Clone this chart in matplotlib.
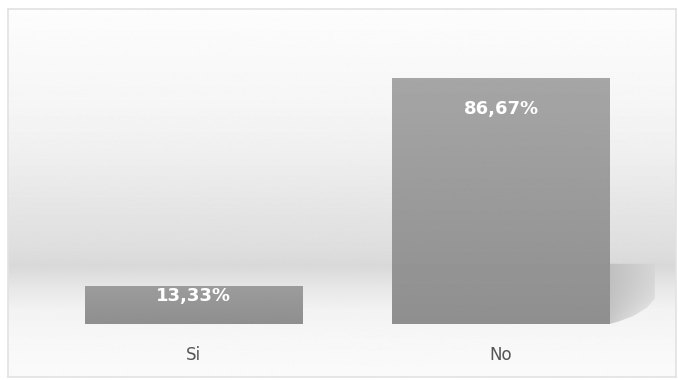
import numpy as np
import matplotlib
matplotlib.use('Agg')
import matplotlib.pyplot as plt
from matplotlib.patches import Polygon

categories = ['Si', 'No']
percentages = [13.33, 86.67]
value_labels = ['13,33%', '86,67%']

fig = plt.figure(figsize=(6.78, 3.80), dpi=100)
fig.patch.set_facecolor('white')
ax = fig.add_axes([8 / 678, 3 / 380, 668 / 678, 368 / 380])

x = np.arange(len(categories))
ymin, ymax = -18.66, 110.9
xmin, xmax = -0.603, 1.569
ax.set_xlim(xmin, xmax)
ax.set_ylim(ymin, ymax)

# soft grey band behind the bars, near white at top and bottom
stops_y = [ymax, 79, 61, 44, 26, 20.5, 12, 5, -6, ymin]
stops_g = [0.99, 0.965, 0.94, 0.905, 0.87, 0.85, 0.91, 0.95, 0.97, 0.98]
yy = np.linspace(ymax, ymin, 400)
gg = np.interp(yy, stops_y[::-1], stops_g[::-1])
ax.imshow(gg[:, None], extent=[xmin, xmax, ymin, ymax], aspect='auto',
          cmap='gray', vmin=0, vmax=1, zorder=0, interpolation='bilinear')

bars = ax.bar(x, percentages, width=0.706, color='none', edgecolor='none', zorder=3)

# drop shadow to the right of the tall bar
tall = bars[1]
rx = tall.get_x() + tall.get_width()
shadow = Polygon([(rx - 0.05, 21.2), (1.50, 21.2), (1.50, 9.0),
                  (1.475, 5.8), (1.43, 2.8), (1.38, 0.8), (rx, 0),
                  (rx - 0.05, 0)], closed=True,
                 facecolor='none', edgecolor='none')
ax.add_patch(shadow)
sx = np.linspace(0, 1, 200)
sy = np.linspace(0, 1, 100)
SX, SY = np.meshgrid(sx, sy)
shade = 0.72 + 0.12 * SX + 0.14 * (1 - SY) ** 3 * SX
shade = np.clip(shade, 0, 0.9)
im = ax.imshow(shade, extent=[rx - 0.05, 1.50, 0, 21.2], origin='lower',
               aspect='auto', cmap='gray', vmin=0, vmax=1, zorder=2,
               interpolation='bilinear')
im.set_clip_path(shadow)

# vertical grey gradient inside each bar
for b in bars:
    x0, w, h = b.get_x(), b.get_width(), b.get_height()
    frac = np.linspace(0, 1, 200)[:, None]
    bot_g = 0.56
    top_g = 0.56 + 0.09 * (0.5 + 0.5 * h / max(percentages))
    col = bot_g + (top_g - bot_g) * frac
    bim = ax.imshow(col, extent=[x0, x0 + w, 0, h], origin='lower', aspect='auto',
                    cmap='gray', vmin=0, vmax=1, zorder=3, interpolation='bilinear')
    bim.set_clip_path(b)

for b, lab in zip(bars, value_labels):
    cx = b.get_x() + b.get_width() / 2
    h = b.get_height()
    ax.text(cx, h - min(11.0, 0.26 * h), lab, ha='center', va='center',
            color='white', fontsize=13, fontweight='bold', zorder=5)

for xi, cat in zip(x, categories):
    ax.text(xi, -11, cat, ha='center', va='center', color='#555555',
            fontsize=12, zorder=5)

ax.set_xticks([])
ax.set_yticks([])
for s in ax.spines.values():
    s.set_color('#e2e2e2')
    s.set_linewidth(1.2)

fig.savefig('out.png', dpi=100, facecolor='white')
